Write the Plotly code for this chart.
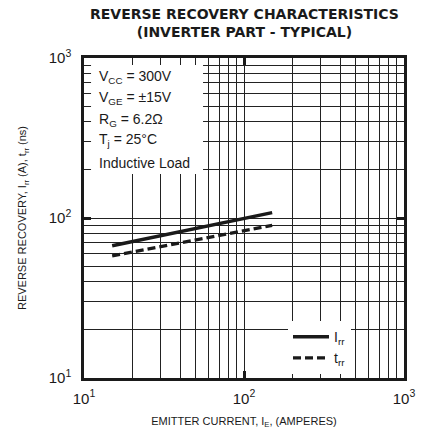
import plotly.graph_objects as go

# Data
irr_x = [15, 50, 150]
irr_y = [67, 86, 108]
trr_x = [15, 50, 150]
trr_y = [58, 73, 90]

major_vals = [10, 100, 1000]
major_text = ["10<sup>1</sup>", "10<sup>2</sup>", "10<sup>3</sup>"]
minor_vals = [m * d for d in (10, 100) for m in range(2, 10)]

cond_lines = ["V<sub>CC</sub> = 300V", "V<sub>GE</sub> = ±15V",
              "R<sub>G</sub> = 6.2Ω", "T<sub>j</sub> = 25°C", "Inductive Load"]

FONT = "Liberation Sans, Arial, sans-serif"
INK = "#1a1a1a"

fig = go.Figure()
fig.add_trace(go.Scatter(x=irr_x, y=irr_y, mode="lines", name="I<sub>rr</sub>",
                         line=dict(color=INK, width=3.5)))
fig.add_trace(go.Scatter(x=trr_x, y=trr_y, mode="lines", name="t<sub>rr</sub>",
                         line=dict(color=INK, width=3.2, dash="8px,4px")))

axis_common = dict(
    type="log", showline=True, linecolor=INK, linewidth=2.5, mirror="ticks",
    ticks="inside", ticklen=7, tickwidth=2.5, tickcolor=INK,
    tickvals=major_vals, ticktext=major_text,
    showgrid=True, gridcolor="#222222", gridwidth=1.3,
    minor=dict(tickvals=minor_vals, showgrid=True, gridcolor="#222222", gridwidth=1.3),
    tickfont=dict(family=FONT, size=15, color=INK),
    zeroline=False, automargin=False,
)

fig.update_xaxes(range=[1, 3], **axis_common, ticklabelstandoff=5,
                 title=dict(text="EMITTER CURRENT, I<sub>E</sub>, (AMPERES)",
                            font=dict(family=FONT, size=11, color=INK), standoff=12))
fig.update_yaxes(range=[1, 3], **axis_common, ticklabelstandoff=7,
                 title=dict(text="REVERSE RECOVERY, I<sub>rr</sub> (A), t<sub>rr</sub> (ns)",
                            font=dict(family=FONT, size=11, color=INK), standoff=20))

# white box behind conditions text
fig.add_shape(type="rect", xref="paper", yref="paper", x0=0.022, x1=0.372, y0=0.6375, y1=0.978,
              fillcolor="white", line=dict(width=0), layer="above")

ys = [0.9406, 0.8735, 0.806, 0.7435, 0.6725]
for t, yy in zip(cond_lines, ys):
    fig.add_annotation(text=t, xref="paper", yref="paper", x=0.04, y=yy,
                       xanchor="left", yanchor="middle", showarrow=False,
                       font=dict(family=FONT, size=14, color=INK))

# Title
fig.add_annotation(text="<b>REVERSE RECOVERY CHARACTERISTICS<br>(INVERTER PART - TYPICAL)</b>",
                   xref="paper", yref="paper",
                   x=0.5, y=1 + (58 - 22.5) / 320, xanchor="center", yanchor="middle",
                   showarrow=False, font=dict(family="DejaVu Sans, sans-serif", size=14, color=INK))

fig.update_layout(
    width=421, height=429,
    margin=dict(l=84, r=17, t=58, b=51, autoexpand=False),
    paper_bgcolor="white", plot_bgcolor="white",
    showlegend=True,
    legend=dict(x=0.6375, y=0.178, xanchor="left", yanchor="top",
                bgcolor="white", borderwidth=0, itemwidth=36,
                font=dict(family=FONT, size=14, color=INK)),
)

fig.write_html("out.html", config={"displayModeBar": False},
               post_script="document.body.style.margin='0';")
